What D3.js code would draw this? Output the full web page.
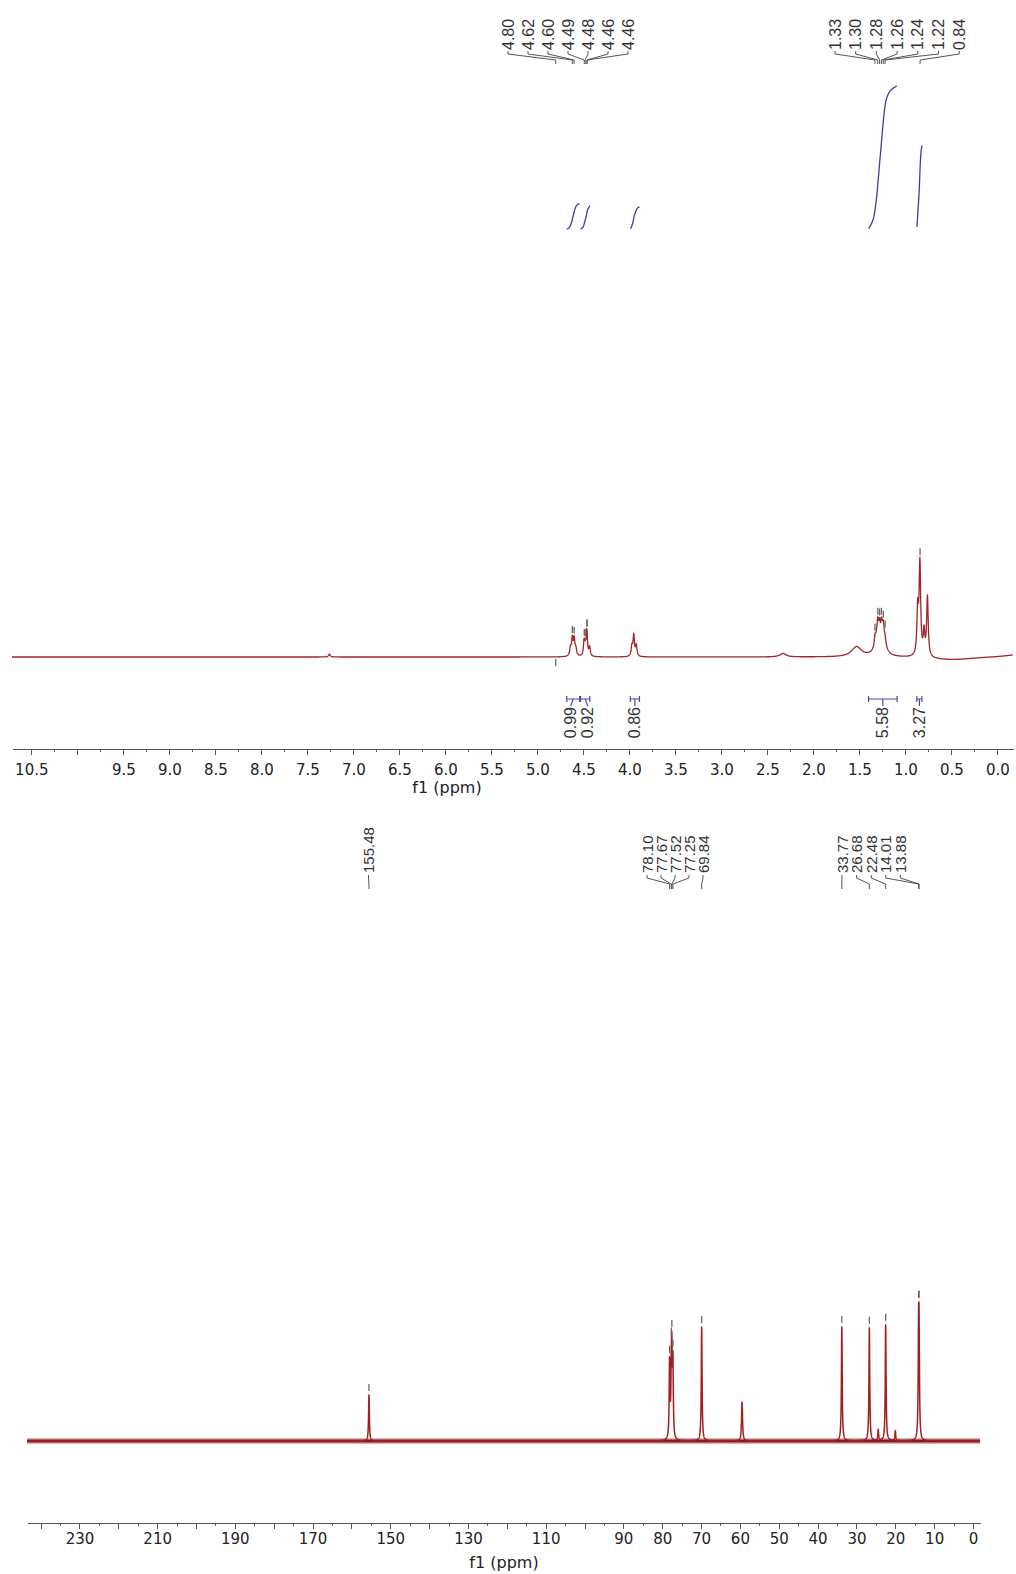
<!DOCTYPE html>
<html>
<head>
<meta charset="utf-8">
<title>1H and 13C NMR spectra</title>
<script src="https://cdnjs.cloudflare.com/ajax/libs/d3/7.8.5/d3.min.js"></script>
<style>
  html, body { margin: 0; padding: 0; background: #ffffff; }
  svg { display: block; }
  .axis text { font-family: "DejaVu Sans", Verdana, sans-serif; font-size: 15px; fill: #222; }
  .axis path, .axis line { stroke: #555; stroke-width: 1; shape-rendering: crispEdges; }
  .title { font-family: "DejaVu Sans", Verdana, sans-serif; font-size: 16px; fill: #222; }
  .pick { font-family: "Liberation Sans", Arial, sans-serif; fill: #333; }
</style>
</head>
<body>
<svg id="chart" width="1016" height="1574"></svg>
<script>
// ---------------- 1H spectrum ----------------
// resonance lines: position (ppm), height (intensity), half width at half height (ppm)
const protonLinePpm    = [7.26, 4.640, 4.620, 4.600, 4.582, 4.492, 4.478, 4.462, 4.432, 3.972, 3.952, 3.925, 2.33, 1.53, 1.300, 1.245, 1.33, 1.30, 1.28, 1.26, 1.24, 1.22, 0.866, 0.842, 0.797, 0.760, 0.50, -0.40];
const protonLineHeight = [3, 8, 17, 16, 7, 15, 8, 25, 9, 10, 21, 11, 3.5, 10, 22, 22, 8, 10, 11, 11, 8, 5, 45, 92, 24, 60, -3, 6];
const protonLineWidth  = [0.01, 0.01, 0.009, 0.009, 0.01, 0.008, 0.008, 0.008, 0.009, 0.009, 0.009, 0.009, 0.04, 0.065, 0.03, 0.03, 0.008, 0.008, 0.008, 0.008, 0.008, 0.008, 0.01, 0.01, 0.01, 0.01, 0.3, 0.2];

// picked peaks, one list per label block
const protonPickLabels = [
  ["4.80", "4.62", "4.60", "4.49", "4.48", "4.46", "4.46"],
  ["1.33", "1.30", "1.28", "1.26", "1.24", "1.22", "0.84"]
];

// integrals
const protonIntegralValue = [0.99, 0.92, 0.86, 5.58, 3.27];
const protonIntegralFrom  = [4.68, 4.53, 3.99, 1.40, 0.875];
const protonIntegralTo    = [4.54, 4.43, 3.89, 1.09, 0.82];

const protonTickLabels = ["10.5", "9.5", "9.0", "8.5", "8.0", "7.5", "7.0", "6.5", "6.0", "5.5", "5.0", "4.5", "4.0", "3.5", "3.0", "2.5", "2.0", "1.5", "1.0", "0.5", "0.0"];

// ---------------- 13C spectrum ----------------
const carbonLinePpm    = [155.48, 78.10, 77.67, 77.52, 77.25, 69.84, 59.45, 33.77, 26.68, 24.40, 22.48, 20.00, 14.01, 13.88];
const carbonLineHeight = [46, 76, 50, 75, 72, 114, 39, 114, 113, 11, 116, 10, 90, 90];
const carbonLineWidth  = [0.12, 0.12, 0.12, 0.12, 0.12, 0.12, 0.15, 0.12, 0.12, 0.12, 0.12, 0.12, 0.12, 0.12];

const carbonPickLabels = [
  ["155.48"],
  ["78.10", "77.67", "77.52", "77.25", "69.84"],
  ["33.77", "26.68", "22.48", "14.01", "13.88"]
];

const carbonTickLabels = ["230", "210", "190", "170", "150", "130", "110", "90", "80", "70", "60", "50", "40", "30", "20", "10", "0"];

// ---------------- drawing ----------------
const svg = d3.select("#chart");

function lineShape(ppms, heights, widths) {
  return p => {
    let s = 0;
    for (let i = 0; i < ppms.length; i++) {
      const d = (p - ppms[i]) / widths[i];
      s += heights[i] / (1 + d * d);
    }
    return s;
  };
}

function localMax(f, p, half) {
  let m = -Infinity;
  for (let q = p - half; q <= p + half; q += half / 20) m = Math.max(m, f(q));
  return m;
}

function drawAxis(x, y, step, majorEvery, maxVal, labels, fmt, pad) {
  const labelSet = new Set(labels);
  const n = Math.round(maxVal / step);
  const all = d3.range(0, n + 1).map(i => +(i * step).toFixed(4));
  const minor = all.filter((v, i) => i % majorEvery !== 0);
  const major = all.filter((v, i) => i % majorEvery === 0);
  svg.append("g").attr("class", "axis").attr("transform", `translate(0,${y})`)
    .call(d3.axisBottom(x).tickValues(minor).tickSize(3).tickSizeOuter(0).tickFormat(""));
  const gB = svg.append("g").attr("class", "axis").attr("transform", `translate(0,${y})`)
    .call(d3.axisBottom(x).tickValues(major).tickSize(6).tickSizeOuter(0).tickPadding(pad)
      .tickFormat(v => labelSet.has(fmt(v)) ? fmt(v) : ""));
  gB.select(".domain").remove();
}

function drawPicks(groups, layout, x, f, yBase, yScale, search, opts) {
  groups.forEach((labels, gi) => {
    const lay = layout[gi];
    labels.forEach((lab, i) => {
      const ppm = +lab;
      const px = x(ppm);
      const lx = lay.x0 + i * lay.dx;
      const g = svg.append("g");
      // connector from label to peak position
      g.append("path")
        .attr("d", `M${lx},${opts.c0}V${opts.c1}L${px},${opts.c2}V${opts.c3}`)
        .attr("fill", "none").attr("stroke", "#555").attr("stroke-width", 1);
      g.append("text").attr("class", "pick")
        .attr("transform", `translate(${lx},${opts.textY}) rotate(-90)`)
        .attr("text-anchor", "start").attr("dominant-baseline", "central")
        .style("font-size", opts.fontSize + "px")
        .text(lab);
      // peak marker over the peak top
      const top = localMax(f, ppm, search);
      let m0, m1;
      if (top < 3) { m0 = yBase + 2; m1 = yBase + 9; }
      else { m0 = yScale(top) - opts.mk0; m1 = yScale(top) - opts.mk1; }
      svg.append("line").attr("x1", px).attr("x2", px).attr("y1", m0).attr("y2", m1)
        .attr("stroke", "#666").attr("stroke-width", 1.3);
    });
  });
}

// ---- 1H panel ----
const xH = d3.scaleLinear().domain([10.71, -0.17]).range([12, 1013]);
const yH = d3.scaleLinear().domain([0, 100]).range([657, 557]);
const fH = lineShape(protonLinePpm, protonLineHeight, protonLineWidth);
const gridH = d3.range(10.71, -0.17, -0.0025);
const traceH = gridH.map(p => [p, fH(p)]);

svg.append("path")
  .attr("d", d3.line().x(d => xH(d[0])).y(d => yH(d[1]))(traceH))
  .attr("fill", "none").attr("stroke", "#a0252a").attr("stroke-width", 1.3)
  .attr("stroke-linejoin", "round");

// integral curves
const yInt = d3.scaleLinear().domain([0, 1]).range([229, 203.4]);
protonIntegralValue.forEach((val, i) => {
  const pts = d3.range(protonIntegralFrom[i], protonIntegralTo[i], -0.0025);
  let acc = 0;
  const cum = pts.map(p => { acc += fH(p); return acc; });
  const k = val / acc;
  const curve = pts.map((p, j) => [p, cum[j] * k]);
  svg.append("path")
    .attr("d", d3.line().x(d => xH(d[0])).y(d => yInt(d[1])).curve(d3.curveBasis)(curve))
    .attr("fill", "none").attr("stroke", "#3d3d9e").attr("stroke-width", 1.3);
});

// integration brackets and values
const bracketY = 699;
const centres = protonIntegralValue.map((v, i) => (xH(protonIntegralFrom[i]) + xH(protonIntegralTo[i])) / 2);
// spread labels that would overlap
const minGap = 17;
const labelX = centres.slice();
let moved = true;
while (moved) {
  moved = false;
  for (let i = 0; i < labelX.length - 1; i++) {
    if (labelX[i + 1] - labelX[i] < minGap - 0.01) {
      const mid = (labelX[i] + labelX[i + 1]) / 2;
      labelX[i] = mid - minGap / 2; labelX[i + 1] = mid + minGap / 2; moved = true;
    }
  }
}
protonIntegralValue.forEach((val, i) => {
  const x1 = xH(protonIntegralFrom[i]), x2 = xH(protonIntegralTo[i]);
  const g = svg.append("g").attr("stroke", "#4a4aa6").attr("stroke-width", 1.2).attr("fill", "none");
  g.append("path").attr("d", `M${x1},${bracketY - 3}V${bracketY + 3}M${x1},${bracketY}H${x2}M${x2},${bracketY - 3}V${bracketY + 3}`);
  g.append("path").attr("d", `M${centres[i]},${bracketY}L${labelX[i]},${bracketY + 7}`);
  svg.append("text").attr("class", "pick")
    .attr("transform", `translate(${labelX[i]},${bracketY + 8}) rotate(-90)`)
    .attr("text-anchor", "end").attr("dominant-baseline", "central")
    .style("font-size", "16px")
    .text(val.toFixed(2));
});

drawPicks(protonPickLabels, [{ x0: 508, dx: 20 }, { x0: 835, dx: 20.7 }], xH, fH, 657, yH, 0.01,
  { c0: 51, c1: 54, c2: 60, c3: 64, textY: 50, fontSize: 16, mk0: 9, mk1: 2 });

drawAxis(xH, 749, 0.25, 2, 10.5, protonTickLabels, v => v.toFixed(1), 9);
svg.append("text").attr("class", "title").attr("x", 447).attr("y", 793)
  .attr("text-anchor", "middle").text("f1 (ppm)");

// ---- 13C panel ----
const xC = d3.scaleLinear().domain([243.5, -1.8]).range([27, 980]);
const yC = d3.scaleLinear().domain([0, 100]).range([1441, 1341]);
const fC = lineShape(carbonLinePpm, carbonLineHeight, carbonLineWidth);
const gridC = d3.range(243.5, -1.8, -0.02).concat(carbonLinePpm).sort((a, b) => b - a);
const traceC = gridC.map(p => [p, fC(p)]);

// noisy baseline band
svg.append("line")
  .attr("x1", xC(243.5)).attr("x2", xC(-1.8)).attr("y1", yC(0)).attr("y2", yC(0))
  .attr("stroke", "#b04444").attr("stroke-opacity", 0.4).attr("stroke-width", 6);
svg.append("line")
  .attr("x1", xC(243.5)).attr("x2", xC(-1.8)).attr("y1", yC(0)).attr("y2", yC(0))
  .attr("stroke", "#861818").attr("stroke-width", 3);

svg.append("path")
  .attr("d", d3.line().x(d => xC(d[0])).y(d => yC(d[1]))(traceC))
  .attr("fill", "none").attr("stroke", "#a01f22").attr("stroke-width", 1.5)
  .attr("stroke-linejoin", "round");

drawPicks(carbonPickLabels, [{ x0: 368.5, dx: 14 }, { x0: 647, dx: 14 }, { x0: 842, dx: 14.6 }], xC, fC, 1441, yC, 0.08,
  { c0: 875, c1: 878, c2: 884, c3: 889, textY: 873, fontSize: 15, mk0: 11, mk1: 4 });

drawAxis(xC, 1523, 5, 2, 240, carbonTickLabels, v => String(v), 4);
svg.append("text").attr("class", "title").attr("x", 504).attr("y", 1568)
  .attr("text-anchor", "middle").text("f1 (ppm)");
</script>
</body>
</html>
